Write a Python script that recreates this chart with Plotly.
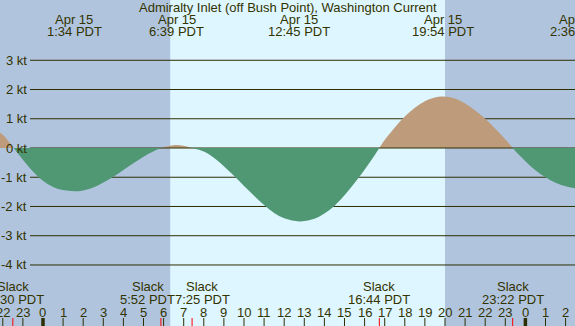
import plotly.graph_objects as go

# ---------------- data ----------------
hours = [-2.14, -2.0, -1.75, -1.46,
         -1.0, -0.5, 0.0, 0.5, 1.0, 1.57, 2.0, 2.5, 3.0, 3.5, 4.0, 4.5, 5.0, 5.5, 5.87,
         6.2, 6.65, 7.1, 7.42,
         8.0, 8.5, 9.0, 9.5, 10.0, 10.5, 11.0, 11.5, 12.0, 12.5, 12.8, 13.0, 13.5, 14.0,
         14.5, 15.0, 15.5, 16.0, 16.5, 16.73,
         17.0, 17.5, 18.0, 18.5, 19.0, 19.5, 19.9, 20.5, 21.0, 21.5, 22.0, 22.5, 23.0, 23.37,
         23.5, 24.0, 24.5, 25.0, 25.5, 26.0, 26.5]
speeds = [0.52, 0.45, 0.26, 0.0,
          -0.40, -0.80, -1.12, -1.33, -1.44, -1.48, -1.45, -1.35, -1.18, -0.98, -0.75, -0.52, -0.30, -0.11, 0.0,
          0.06, 0.10, 0.06, 0.0,
          -0.12, -0.33, -0.62, -0.95, -1.30, -1.63, -1.95, -2.22, -2.40, -2.49, -2.51, -2.50, -2.42, -2.24,
          -1.98, -1.62, -1.20, -0.74, -0.25, 0.0,
          0.27, 0.70, 1.08, 1.38, 1.60, 1.73, 1.76, 1.69, 1.52, 1.28, 1.00, 0.66, 0.30, 0.0,
          -0.10, -0.45, -0.76, -1.00, -1.19, -1.31, -1.38]

kt_levels = [3, 2, 1, 0, -1, -2, -3, -4]
kt_labels = ["3 kt", "2 kt", "1 kt", "0 kt", "-1 kt", "-2 kt", "-3 kt", "-4 kt"]

peak_hours = [1.567, 6.65, 12.75, 19.9, 26.6]
peak_dates = ["Apr 15", "Apr 15", "Apr 15", "Apr 15", "Apr 16"]
peak_times = ["1:34 PDT", "6:39 PDT", "12:45 PDT", "19:54 PDT", "2:36 PDT"]

slack_hours = [-1.5, 5.867, 7.417, 16.733, 23.367]
slack_times = ["22:30 PDT", "5:52 PDT", "7:25 PDT", "16:44 PDT", "23:22 PDT"]

hour_ticks = list(range(-2, 27))
hour_labels = [str(h % 24) for h in hour_ticks]

night_spans = [(-2.14, 6.33), (20.0, 26.47)]

title = "Admiralty Inlet (off Bush Point), Washington Current"

# ---------------- style ----------------
W, H = 575, 326
X_RANGE = [-2.139, 26.468]
Y_RANGE = [-6.087, 5.061]
TXT = "#333300"
GRID = "#2E2E00"
NIGHT = "#B0C4DE"
DAY = "#DEF6FF"
FLOOD = "#BE9B7B"
EBB = "#509774"
FONT = "Liberation Sans"
GRID_X0_PX = 30

def py(px):
    return 1 - px / H

def hx(h):
    # hour -> paper x (lets labels hang past the plot edge)
    return (h - X_RANGE[0]) / (X_RANGE[1] - X_RANGE[0])

fig = go.Figure()

# split the curve into segments between slack waters
segments = []
cur_x, cur_y = [], []
for h, v in zip(hours, speeds):
    cur_x.append(h)
    cur_y.append(v)
    if v == 0 and len(cur_x) > 1:
        segments.append((cur_x, cur_y))
        cur_x, cur_y = [h], [v]
if len(cur_x) > 1:
    segments.append((cur_x, cur_y))

flood_segs = [s for s in segments if sum(s[1]) > 0]
ebb_segs = [s for s in segments if sum(s[1]) <= 0]

def add_seg(sx, sy, col):
    fig.add_trace(go.Scatter(
        x=sx, y=sy, mode="lines", fill="tozeroy",
        line=dict(width=0, shape="spline", smoothing=1.0, color=col),
        fillcolor=col, hoverinfo="skip", showlegend=False))

for sx, sy in flood_segs:
    add_seg(sx, sy, FLOOD)

# zero line drawn above the flood fill, below the ebb fill
gx0 = X_RANGE[0] + GRID_X0_PX / W * (X_RANGE[1] - X_RANGE[0])
fig.add_trace(go.Scatter(x=[gx0, X_RANGE[1]], y=[0, 0], mode="lines",
                         line=dict(color=GRID, width=1), hoverinfo="skip", showlegend=False))

for sx, sy in ebb_segs:
    add_seg(sx, sy, EBB)

shapes = []
for a, b in night_spans:
    shapes.append(dict(type="rect", xref="x", yref="paper", x0=a, x1=b, y0=0, y1=1,
                       fillcolor=NIGHT, line=dict(width=0), layer="below"))
for lv in kt_levels:
    if lv == 0:
        continue
    shapes.append(dict(type="line", xref="paper", yref="y", x0=GRID_X0_PX / W, x1=1, y0=lv, y1=lv,
                       line=dict(color=GRID, width=1), layer="below"))
for h in hour_ticks:
    midnight = (h % 24 == 0)
    shapes.append(dict(type="line", xref="x", yref="paper", x0=h, x1=h, y0=0, y1=8 / H,
                       line=dict(color=GRID, width=3.5 if midnight else 1)))
for h in slack_hours:
    shapes.append(dict(type="line", xref="x", yref="paper", x0=h, x1=h, y0=0, y1=8 / H,
                       line=dict(color="red", width=1)))

ann = []
ann.append(dict(text=title, x=0.5, xref="paper", y=py(7.6), yref="paper",
                showarrow=False, xanchor="center", yanchor="middle",
                font=dict(family=FONT, size=13, color=TXT)))
for h, d, t in zip(peak_hours, peak_dates, peak_times):
    ann.append(dict(text=d, x=hx(h), xref="paper", y=py(19.4), yref="paper", showarrow=False,
                    xanchor="center", yanchor="middle", font=dict(family=FONT, size=13, color=TXT)))
    ann.append(dict(text=t, x=hx(h), xref="paper", y=py(31.5), yref="paper", showarrow=False,
                    xanchor="center", yanchor="middle", font=dict(family=FONT, size=13, color=TXT)))
shifts = {1: -13, 2: 10}
for i, (h, t) in enumerate(zip(slack_hours, slack_times)):
    s = shifts.get(i, 0)
    ann.append(dict(text="Slack", x=hx(h), xref="paper", y=py(286.8), yref="paper", showarrow=False,
                    xshift=s, xanchor="center", yanchor="middle",
                    font=dict(family=FONT, size=13, color=TXT)))
    ann.append(dict(text=t, x=hx(h), xref="paper", y=py(299.6), yref="paper", showarrow=False,
                    xshift=s, xanchor="center", yanchor="middle",
                    font=dict(family=FONT, size=13, color=TXT)))
for h, lab in zip(hour_ticks, hour_labels):
    ann.append(dict(text=lab, x=hx(h), xref="paper", y=py(312.4), yref="paper", showarrow=False,
                    xanchor="center", yanchor="middle", font=dict(family=FONT, size=13, color=TXT)))
for lv, lab in zip(kt_levels, kt_labels):
    ann.append(dict(text=lab, x=28.5 / W, xref="paper", y=lv, yref="y", showarrow=False,
                    xanchor="right", yanchor="middle", font=dict(family=FONT, size=13, color=TXT)))

fig.update_layout(
    width=W, height=H, margin=dict(l=0, r=0, t=0, b=0),
    paper_bgcolor=DAY, plot_bgcolor=DAY,
    xaxis=dict(range=X_RANGE, visible=False, fixedrange=True),
    yaxis=dict(range=Y_RANGE, visible=False, fixedrange=True),
    shapes=shapes, annotations=ann, showlegend=False, hovermode=False,
)

fig.write_html("out.html", config={"displayModeBar": False},
               post_script="document.body.style.margin='0';document.body.style.padding='0';"
                           "document.body.style.overflow='hidden';")
